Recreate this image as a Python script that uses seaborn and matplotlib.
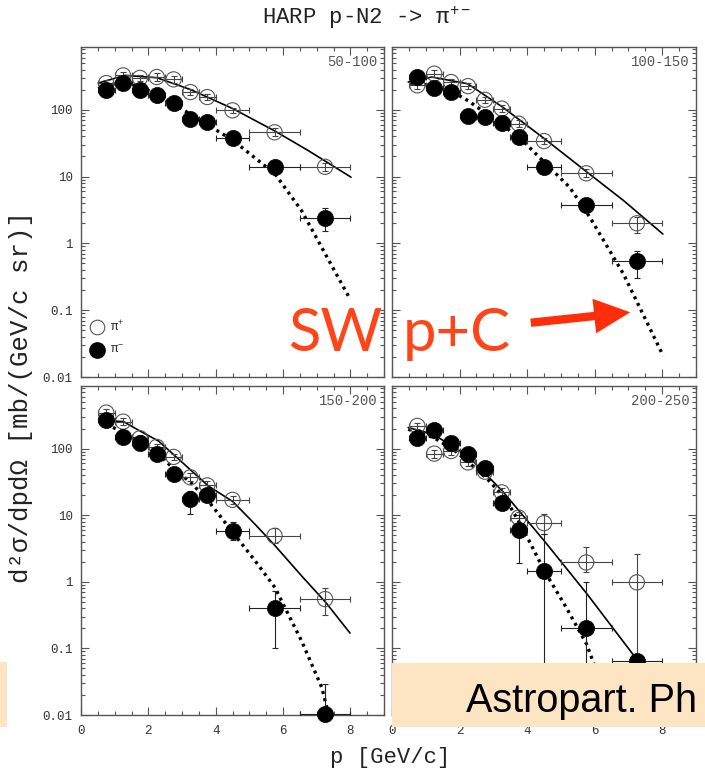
import numpy as np
import pandas as pd
import matplotlib
matplotlib.use("Agg")
import matplotlib.pyplot as plt
import seaborn as sns
from matplotlib.patches import Rectangle, FancyArrowPatch
from matplotlib.ticker import FixedLocator, LogLocator, NullFormatter, MultipleLocator

# ---------------- data ----------------
P_CENTERS = [0.75, 1.25, 1.75, 2.25, 2.75, 3.25, 3.75, 4.5, 5.75, 7.25]
P_HALFWIDTH = [0.25, 0.25, 0.25, 0.25, 0.25, 0.25, 0.25, 0.5, 0.75, 0.75]
PANEL_LABELS = ["50-100", "100-150", "150-200", "200-250"]

# theta 50-100 mrad
PIP_A = [251, 327, 300, 309, 285, 184, 155, 98, 46, 14]
PIM_A = [195, 254, 195, 168, 127, 72, 65, 38, 14, 2.4]
PIP_A_UP = [1.12, 1.12, 1.12, 1.15, 1.12, 1.12, 1.12, 1.1, 1.15, 1.15]
PIP_A_DN = [1.12, 1.12, 1.12, 1.15, 1.12, 1.12, 1.12, 1.1, 1.15, 1.15]
PIM_A_UP = [1.08, 1.08, 1.08, 1.08, 1.08, 1.08, 1.08, 1.1, 1.1, 1.4]
PIM_A_DN = [1.08, 1.08, 1.08, 1.08, 1.08, 1.08, 1.08, 1.1, 1.1, 1.55]
SOLID_A_P = [0.51, 1.31, 2.25, 3.26, 4.51, 5.76, 6.75, 8.02]
SOLID_A_V = [251, 327, 302, 200, 104, 48, 24.5, 9.8]
DOT_A_P = [0.51, 1.26, 2.25, 3.26, 4.51, 5.76, 6.55, 7.15, 7.94]
DOT_A_V = [207, 269, 174, 85, 35, 11, 3.1, 0.87, 0.164]

# theta 100-150 mrad
PIP_B = [232, 347, 260, 226, 141, 104, 62, 34, 11.2, 2.0]
PIM_B = [309, 214, 184, 82, 79, 63, 39, 14, 3.7, 0.54]
PIP_B_UP = [1.15, 1.12, 1.12, 1.12, 1.12, 1.12, 1.12, 1.12, 1.15, 1.25]
PIP_B_DN = [1.15, 1.12, 1.12, 1.12, 1.12, 1.12, 1.12, 1.12, 1.15, 1.4]
PIM_B_UP = [1.08, 1.08, 1.08, 1.08, 1.08, 1.08, 1.08, 1.1, 1.1, 1.4]
PIM_B_DN = [1.08, 1.08, 1.08, 1.08, 1.08, 1.08, 1.08, 1.1, 1.1, 1.8]
SOLID_B_P = [0.48, 1.18, 2.24, 3.27, 4.51, 5.78, 6.85, 8.02]
SOLID_B_V = [260, 309, 245, 110, 37, 11.6, 4.4, 1.38]
DOT_B_P = [0.53, 1.18, 1.72, 2.27, 2.87, 3.76, 4.51, 5.26, 5.86, 6.85, 8.03]
DOT_B_V = [251, 232, 195, 135, 82, 39, 16.4, 6.9, 2.45, 0.35, 0.0207]

# theta 150-200 mrad
PIP_C = [347, 254, 143, 106, 75, 37, 28, 17, 4.9, 0.55]
PIM_C = [266, 150, 123, 84, 42, 17.8, 20, 5.8, 0.40, 0.0105]
PIP_C_UP = [1.15, 1.12, 1.12, 1.12, 1.12, 1.15, 1.15, 1.15, 1.3, 1.45]
PIP_C_DN = [1.15, 1.12, 1.12, 1.12, 1.12, 1.15, 1.15, 1.15, 1.3, 1.75]
PIM_C_UP = [1.1, 1.1, 1.1, 1.1, 1.2, 1.3, 1.15, 1.35, 1.8, 2.8]
PIM_C_DN = [1.1, 1.1, 1.1, 1.1, 1.2, 1.7, 1.15, 1.35, 4.0, 1.0]
SOLID_C_P = [0.56, 1.26, 1.75, 2.3, 2.79, 3.29, 3.78, 4.51, 5.17, 5.76, 6.55, 7.27, 7.99]
SOLID_C_V = [266, 254, 184, 130, 78, 46, 27.5, 16, 7.3, 3.5, 1.23, 0.49, 0.17]
DOT_C_P = [0.56, 1.26, 2.25, 2.75, 3.26, 3.78, 4.51, 5.17, 5.76, 6.55, 7.15, 7.35]
DOT_C_V = [260, 174, 87, 50, 31, 16.4, 5.5, 2.07, 0.82, 0.13, 0.026, 0.0104]

# theta 200-250 mrad
PIP_D = [219, 84, 92, 62, 45, 22, 9.2, 7.6, 1.95, 0.98]
PIM_D = [143, 190, 123, 84, 51, 15, 6.0, 1.43, 0.20, 0.065]
PIP_D_UP = [1.12, 1.15, 1.15, 1.15, 1.15, 1.15, 1.2, 1.37, 1.7, 2.65]
PIP_D_DN = [1.12, 1.15, 1.15, 1.15, 1.15, 1.15, 1.2, 1.46, 1.41, 14]
PIM_D_UP = [1.1, 1.1, 1.1, 1.1, 1.1, 1.1, 1.65, 3.6, 5.0, 1.2]
PIM_D_DN = [1.1, 1.1, 1.1, 1.1, 1.1, 1.1, 3.1, 1000, 100, 1.2]
SOLID_D_P = [0.48, 1.22, 2.24, 3.27, 4.51, 5.78, 7.28, 7.9]
SOLID_D_V = [207, 164, 78, 23, 4.1, 0.65, 0.065, 0.025]
DOT_D_P = [0.48, 1.24, 1.87, 2.27, 2.87, 3.37, 3.86, 4.51, 5.16, 5.76, 5.98, 6.05]
DOT_D_V = [195, 146, 92, 62, 33, 17.4, 6.5, 1.46, 0.41, 0.116, 0.058, 0.01]

Y_TICKS = [0.01, 0.1, 1, 10, 100]
Y_TICKLABELS = ["0.01", "0.1", "1", "10", "100"]
X_TICKS = [0, 2, 4, 6, 8]

# ---------------- style ----------------
sns.set_style("ticks")
MONO = ["Liberation Mono", "DejaVu Sans Mono"]
plt.rcParams["font.family"] = MONO
plt.rcParams["mathtext.fontset"] = "custom"
plt.rcParams["mathtext.rm"] = "Liberation Mono"
plt.rcParams["mathtext.it"] = "Liberation Mono"

W, H = 705, 777
fig = plt.figure(figsize=(W / 100, H / 100), dpi=100)
fig.patch.set_facecolor("white")


def fx(px):
    return px / W


def fy(py):
    return 1 - py / H


AX_X = [(81, 384), (392, 696)]
AX_Y = [(47, 377), (386, 715)]

panels = [
    (PIP_A, PIM_A, PIP_A_UP, PIP_A_DN, PIM_A_UP, PIM_A_DN, SOLID_A_P, SOLID_A_V, DOT_A_P, DOT_A_V),
    (PIP_B, PIM_B, PIP_B_UP, PIP_B_DN, PIM_B_UP, PIM_B_DN, SOLID_B_P, SOLID_B_V, DOT_B_P, DOT_B_V),
    (PIP_C, PIM_C, PIP_C_UP, PIP_C_DN, PIM_C_UP, PIM_C_DN, SOLID_C_P, SOLID_C_V, DOT_C_P, DOT_C_V),
    (PIP_D, PIM_D, PIP_D_UP, PIP_D_DN, PIM_D_UP, PIM_D_DN, SOLID_D_P, SOLID_D_V, DOT_D_P, DOT_D_V),
]

SPINE = "#555555"
TXT = "#333333"

for i, (pip, pim, pu, pd_, mu, md, sp, sv, dp, dv) in enumerate(panels):
    r, c = divmod(i, 2)
    x0, x1 = AX_X[c]
    y0, y1 = AX_Y[r]
    ax = fig.add_axes([fx(x0), fy(y1), fx(x1 - x0), (y1 - y0) / H])
    ax.set_yscale("log")
    ax.set_xlim(0, 9)
    ax.set_ylim(0.01, 870)

    # model curves
    sns.lineplot(x=sp, y=sv, ax=ax, color="black", lw=1.2, sort=False,
                 estimator=None, zorder=2)
    sns.lineplot(x=dp, y=dv, ax=ax, color="black", lw=2.4, sort=False,
                 estimator=None, zorder=2, linestyle=(0, (0.9, 1.3)))

    pipa = np.array(pip, float)
    pima = np.array(pim, float)
    pip_err = [pipa - pipa / np.array(pd_), pipa * np.array(pu) - pipa]
    pim_err = [pima - pima / np.array(md), pima * np.array(mu) - pima]

    ax.errorbar(P_CENTERS, pip, xerr=P_HALFWIDTH, yerr=pip_err, fmt="none",
                ecolor="#444444", elinewidth=0.8, capsize=2.5, capthick=0.8,
                zorder=3)
    ax.errorbar(P_CENTERS, pim, xerr=P_HALFWIDTH, yerr=pim_err, fmt="none",
                ecolor="#222222", elinewidth=0.8, capsize=2.5, capthick=0.8,
                zorder=3)

    df = pd.DataFrame({"p": P_CENTERS, "pip": pip, "pim": pim})
    sns.scatterplot(data=df, x="p", y="pip", ax=ax, s=120, marker="o",
                    facecolor="none", edgecolor="#555555", linewidth=0.8,
                    zorder=4, clip_on=False)
    sns.scatterplot(data=df, x="p", y="pim", ax=ax, s=135, marker="o",
                    color="black", edgecolor="black", linewidth=0.5,
                    zorder=5, clip_on=False)

    ax.set_xlabel("")
    ax.set_ylabel("")
    ax.xaxis.set_major_locator(FixedLocator(X_TICKS))
    ax.xaxis.set_minor_locator(MultipleLocator(0.5))
    ax.yaxis.set_major_locator(FixedLocator(Y_TICKS))
    ax.yaxis.set_minor_locator(LogLocator(base=10, subs=np.arange(2, 10), numticks=20))
    ax.yaxis.set_minor_formatter(NullFormatter())
    ax.tick_params(which="both", direction="in", top=True, right=True,
                   colors=SPINE, labelcolor=TXT, labelsize=9, width=0.8)
    ax.tick_params(which="major", length=6)
    ax.tick_params(which="minor", length=3)
    ax.tick_params(axis="x", pad=7)
    ax.tick_params(axis="y", pad=6)
    if c == 0:
        ax.set_yticklabels(Y_TICKLABELS)
    else:
        ax.set_yticklabels([])
    if r == 1:
        ax.set_xticklabels([str(t) for t in X_TICKS])
    else:
        ax.set_xticklabels([])
    for s in ax.spines.values():
        s.set_color(SPINE)
        s.set_linewidth(1.0)
        s.set_visible(True)

    ax.text(0.978, 0.975, PANEL_LABELS[i], transform=ax.transAxes, ha="right",
            va="top", fontsize=10, color="#555555")

    if i == 0:
        ax.plot([0.053], [0.152], marker="o", ms=10.5, mfc="none", mec="#555555",
                mew=0.8, transform=ax.transAxes, clip_on=False)
        ax.plot([0.053], [0.082], marker="o", ms=11, color="black",
                transform=ax.transAxes, clip_on=False)
        ax.text(0.095, 0.152, r"π$^{+}$", transform=ax.transAxes, va="center",
                fontsize=9, color=TXT)
        ax.text(0.095, 0.082, r"π$^{-}$", transform=ax.transAxes, va="center",
                fontsize=9, color=TXT)

# titles and axis labels
fig.text(fx(366), fy(18), r"HARP p-N2 -> π$^{+-}$", ha="center", va="center",
         fontsize=16, color="#222222")
fig.text(fx(390), fy(757), "p [GeV/c]", ha="center", va="center", fontsize=16,
         color="#222222")
fig.text(fx(21), fy(397), "d²σ/dpdΩ [mb/(GeV/c sr)]", ha="center", va="center",
         rotation=90, fontsize=18.5, color="#222222")

# overlay annotations
RED = "#FF4518"
fig.text(fx(288), fy(351), "SW", fontsize=43, color=RED, family=["Lato", "DejaVu Sans"],
         ha="left", va="baseline")
fig.text(fx(403), fy(351), "p+C", fontsize=43, color=RED, family=["Lato", "DejaVu Sans"],
         ha="left", va="baseline")
arrow = FancyArrowPatch((fx(528), fy(323)), (fx(633), fy(312)),
                        transform=fig.transFigure,
                        arrowstyle="simple,tail_width=0.3,head_width=1.25,head_length=1.3",
                        mutation_scale=20, color="#FF2E0A", lw=0)
fig.add_artist(arrow)

BEIGE = "#FDE4C3"
fig.add_artist(Rectangle((fx(0), fy(727)), fx(7), (727 - 662) / H,
                         transform=fig.transFigure, color=BEIGE, lw=0, zorder=10))
fig.add_artist(Rectangle((fx(392), fy(727)), fx(W - 392), (727 - 663) / H,
                         transform=fig.transFigure, color=BEIGE, lw=0, zorder=10))
fig.text(fx(466), fy(712), "Astropart. Ph", fontsize=28.5, color="black",
         family=["Liberation Sans", "DejaVu Sans"], ha="left", va="baseline",
         zorder=11)

fig.savefig("out.png", dpi=100)
